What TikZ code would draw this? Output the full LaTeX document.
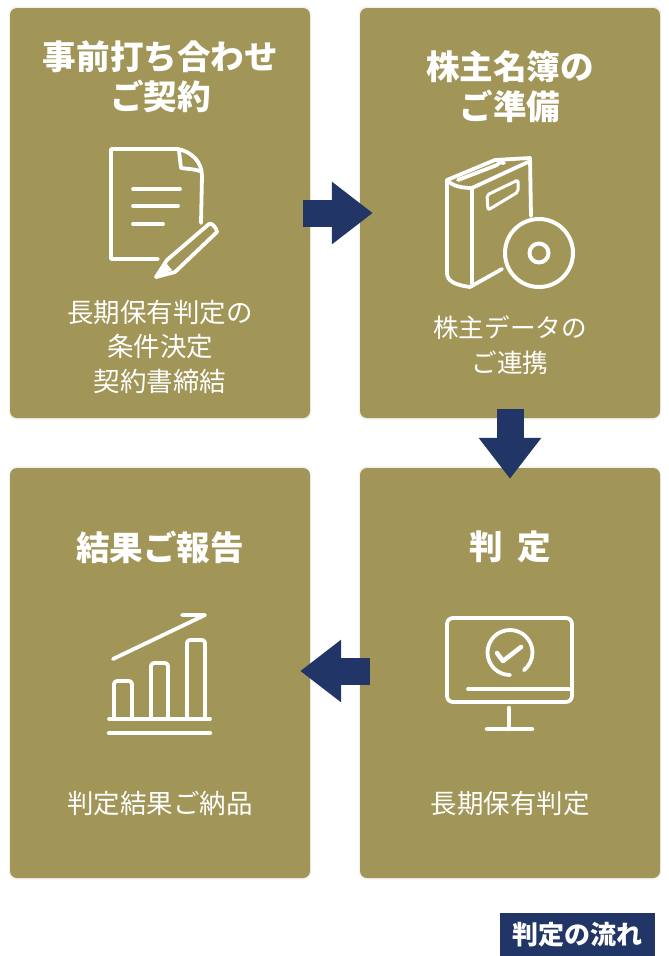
\documentclass[tikz,border=0pt]{standalone}
\usepackage{fontspec}
\setmainfont{Noto Sans CJK JP}
\usetikzlibrary{shapes,arrows.meta,shadows}
\definecolor{cardolive}{RGB}{161,149,87}
\definecolor{flownavy}{RGB}{33,54,103}

\begin{document}
\begin{tikzpicture}[x=1pt,y=-1pt,node distance=350pt]
\tikzstyle{card}=[rectangle,fill=cardolive,rounded corners=7pt,inner sep=0pt,minimum width=300pt,minimum height=410pt,drop shadow={shadow xshift=0pt,shadow yshift=0pt,shadow scale=1.008,opacity=.05,fill=black}]
\tikzstyle{title}=[text=white,align=center,font=\fontsize{33.6}{40}\selectfont\bfseries]
\tikzstyle{body}=[text=white,align=center,font=\fontsize{26.5}{34.5}\selectfont]
\tikzstyle{flow}=[-{Triangle[length=41pt,width=60pt]},draw=flownavy,line width=27pt]
\tikzstyle{icon}=[draw=white,line width=3.8pt,line cap=round,line join=round]
\useasboundingbox (0,0) rectangle (669,956);
\node[card] (cardA) at (160,213) {};
\node[card][right of=cardA] (cardB) {};
\node[card][below of=cardB,node distance=460pt] (cardC) {};
\node[card][left of=cardC] (cardD) {};
\node[title] (titleA) at (160.5,77) {事前打ち合わせ\\ご契約};
\node[title] (titleB) at (510,87) {株主名簿の\\ご準備};
\node[title] (titleC) at (510.5,547) {判\hspace{15pt}定};
\node[title] (titleD) at (160,547) {結果ご報告};
\node[body] (bodyA) at (160,346.5) {長期保有判定の\\条件決定\\契約書締結};
\node[body,font=\fontsize{25.6}{34.5}\selectfont] (bodyB) at (510,345) {株主データの\\ご連携};
\node[body] (bodyC) at (510,803) {長期保有判定};
\node[body] (bodyD) at (160,803) {判定結果ご納品};
\draw[flow,shorten <=-7pt,shorten >=-13pt] (cardA) -- (cardB);
\draw[flow,shorten <=-9pt,shorten >=-11pt] (cardB) -- (cardC);
\draw[flow,shorten <=-10pt,shorten >=-10pt] ([yshift=2pt]cardC.west) -- ([yshift=2pt]cardD.east);
\draw[icon] (158,259) -- (111,259) -- (111,149) -- (178,149) .. controls (192,152) and (202,162) .. (202,176) -- (201,223);
\draw[icon] (179,151) -- (181,168) .. controls (188,169) and (194,169) .. (200,171);
\draw[icon] (133,189) -- (180,189) (133,206) -- (178,206) (133,224) -- (163,224);
\draw[icon] (156,277) -- (167,260) -- (209,224) .. controls (212,222) and (217,229) .. (217,232) -- (175,272) -- cycle;
\fill[white] (156,277) -- (166,263) -- (172,270) -- cycle;
\draw[icon] (447,180) -- (447,273) .. controls (447,281) and (455,285) .. (470,287) -- (502,269);
\draw[icon] (447,180) -- (495,160) -- (530,158) -- (531,216);
\draw[icon] (447,180) .. controls (452,186) and (462,188) .. (472,188) -- (472,284);
\draw[icon] (472,188) -- (528,162) (458,180) -- (497,165) .. controls (499,162) and (502,162) .. (504,163);
\draw[icon,line width=3pt,rounded corners=2pt] (487,195) -- (518,180) -- (518,192) -- (488,210) -- cycle;
\draw[icon,line width=4pt] (539,253) circle (34pt);
\draw[icon,line width=4pt] (539,253) circle (9.5pt);
\draw[icon,rounded corners=6pt] (447,618) rectangle (572,702);
\draw[icon] (468,689) -- (570,689);
\draw[icon] (510,675) arc[start angle=-90,end angle=-412,radius=22.5pt];
\draw[icon,line width=4.5pt] (497,653) -- (503,661) -- (521,647);
\draw[icon,line width=4.5pt] (509,708) -- (509,729) (487,729) -- (532,729);
\draw[icon] (113,659) -- (205,615) -- (182,615);
\draw[icon,rounded corners=3pt] (114,718) -- (114,681) -- (132,681) -- (132,718);
\draw[icon,rounded corners=3pt] (151,718) -- (151,663) -- (168,663) -- (168,718);
\draw[icon,rounded corners=3pt] (187,718) -- (187,640) -- (205,640) -- (205,718);
\draw[icon] (109,719) -- (210,719);
\draw[icon,line width=4.5pt] (109,733) -- (210,733);
\node[fill=flownavy,text=white,inner sep=0pt,minimum width=155pt,minimum height=43pt,font=\fontsize{26}{30}\selectfont\bfseries] (caption) at (577.5,934.5) {判定の流れ};
\end{tikzpicture}
\end{document}
